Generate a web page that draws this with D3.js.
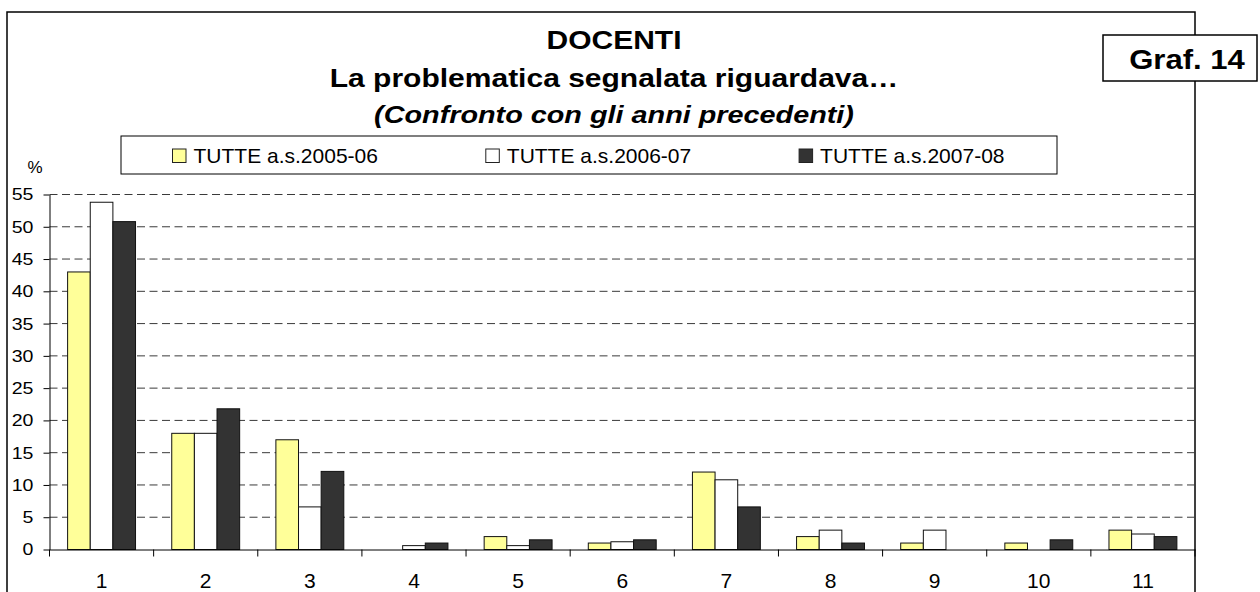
<!DOCTYPE html>
<html>
<head>
<meta charset="utf-8">
<script src="https://cdn.jsdelivr.net/npm/d3@7"></script>
<style>
    html, body { margin: 0; padding: 0; background: #fff; }
    #chart { width: 1260px; height: 592px; overflow: hidden; }
    text { font-family: Arial, "Liberation Sans", sans-serif; fill: #000; }
</style>
</head>
<body>
<div id="chart"></div>
<script>
const categories = ["1", "2", "3", "4", "5", "6", "7", "8", "9", "10", "11"];
const seriesNames = ["TUTTE a.s.2005-06", "TUTTE a.s.2006-07", "TUTTE a.s.2007-08"];
const values0506 = [43, 18, 17, 0, 2, 1, 12, 2, 1, 1, 3];
const values0607 = [53.8, 18, 6.6, 0.6, 0.6, 1.2, 10.8, 3, 3, 0, 2.4];
const values0708 = [50.8, 21.8, 12.1, 1, 1.5, 1.5, 6.6, 1, 0, 1.5, 2];
const yTicks = [0, 5, 10, 15, 20, 25, 30, 35, 40, 45, 50, 55];
const titleLines = ["DOCENTI", "La problematica segnalata riguardava…", "(Confronto con gli anni precedenti)"];
const badgeLabel = "Graf. 14";
const unitLabel = "%";

document.addEventListener("DOMContentLoaded", () => {

    const width = 1260;
    const height = 592;
    const plot = { left: 49.5, right: 1195, top: 194.5, bottom: 549.5 };
    const colors = ["#ffff99", "#ffffff", "#333333"];
    const series = [values0506, values0607, values0708];

    const svg = d3.select("#chart")
        .append("svg")
        .attr("width", width)
        .attr("height", height);

    // text in the picture is a bit wider than plain Arial
    function wideText(parent, x, y, str, size, sx) {
        return parent.append("text")
            .attr("transform", `translate(${x},${y}) scale(${sx},1)`)
            .style("font-size", size + "px")
            .text(str);
    }

    // outer frame
    svg.append("rect")
        .attr("x", 7)
        .attr("y", 12)
        .attr("width", 1188)
        .attr("height", 620)
        .attr("fill", "none")
        .attr("stroke", "#000")
        .attr("stroke-width", 1.5);

    // titles
    const titleY = [49, 87, 123];
    titleLines.forEach((t, i) => {
        wideText(svg, 614, titleY[i], t, i === 2 ? 24 : 25, 1.2)
            .attr("text-anchor", "middle")
            .style("font-weight", "bold")
            .style("font-style", i === 2 ? "italic" : "normal");
    });

    // badge
    svg.append("rect")
        .attr("x", 1103)
        .attr("y", 35)
        .attr("width", 154)
        .attr("height", 46)
        .attr("fill", "#fff")
        .attr("stroke", "#000")
        .attr("stroke-width", 1.5);
    wideText(svg, 1187, 69, badgeLabel, 27, 1.15)
        .attr("text-anchor", "middle")
        .style("font-weight", "bold");

    // legend
    svg.append("rect")
        .attr("x", 121)
        .attr("y", 136)
        .attr("width", 936)
        .attr("height", 38)
        .attr("fill", "#fff")
        .attr("stroke", "#000")
        .attr("stroke-width", 1);

    const legend = svg.selectAll(".legend")
        .data(seriesNames)
        .enter()
        .append("g")
        .attr("class", "legend")
        .attr("transform", (d, i) => `translate(${172.5 + i * 313.3},149)`);

    legend.append("rect")
        .attr("width", 13.5)
        .attr("height", 13.5)
        .attr("fill", (d, i) => colors[i])
        .attr("stroke", "#222")
        .attr("stroke-width", 1);

    legend.append("text")
        .attr("x", 21)
        .attr("y", 14)
        .style("font-size", "21px")
        .text(d => d);

    // unit
    svg.append("text")
        .attr("x", 35)
        .attr("y", 167)
        .attr("dy", "0.35em")
        .attr("text-anchor", "middle")
        .style("font-size", "17px")
        .text(unitLabel);

    // scales
    const x = d3.scaleBand()
        .domain(categories)
        .range([plot.left, plot.right]);

    const xInner = d3.scaleBand()
        .domain(d3.range(series.length))
        .range([0, x.bandwidth()])
        .paddingInner(0)
        .paddingOuter(0.8);

    const y = d3.scaleLinear()
        .domain([0, 55])
        .range([plot.bottom, plot.top]);

    // dashed gridlines
    svg.append("g")
        .selectAll("line")
        .data(yTicks.filter(t => t > 0))
        .enter()
        .append("line")
        .attr("x1", plot.left)
        .attr("x2", plot.right)
        .attr("y1", d => y(d))
        .attr("y2", d => y(d))
        .attr("stroke", "#3a3a3a")
        .attr("stroke-width", 1)
        .attr("stroke-dasharray", "8,4.5");

    // bars
    const groups = svg.selectAll(".group")
        .data(categories)
        .enter()
        .append("g")
        .attr("class", "group")
        .attr("transform", d => `translate(${x(d)},0)`);

    groups.selectAll("rect")
        .data((d, ci) => series.map((s, si) => ({ si: si, v: s[ci] })).filter(b => b.v > 0))
        .enter()
        .append("rect")
        .attr("x", b => xInner(b.si))
        .attr("y", b => y(b.v))
        .attr("width", xInner.bandwidth())
        .attr("height", b => y(0) - y(b.v))
        .attr("fill", b => colors[b.si])
        .attr("stroke", "#111")
        .attr("stroke-width", 1);

    // y axis
    const yAxis = svg.append("g")
        .attr("transform", `translate(${plot.left},0)`)
        .call(d3.axisLeft(y).tickValues(yTicks).tickSize(6).tickSizeOuter(0).tickPadding(8));

    yAxis.selectAll("text")
        .attr("transform", "scale(1.15,1)")
        .style("font-size", "17px")
        .style("font-family", "Arial, 'Liberation Sans', sans-serif")
        .attr("fill", "#000");

    // x axis
    const xAxis = svg.append("g")
        .attr("transform", `translate(0,${plot.bottom})`)
        .call(d3.axisBottom(x).tickSize(0).tickSizeOuter(0).tickPadding(23.5));

    xAxis.selectAll("text")
        .style("font-size", "21px")
        .style("font-family", "Arial, 'Liberation Sans', sans-serif")
        .attr("fill", "#000");

    // category boundary ticks
    xAxis.selectAll(".bound")
        .data(d3.range(categories.length + 1))
        .enter()
        .append("line")
        .attr("class", "bound")
        .attr("x1", i => plot.left + i * x.step())
        .attr("x2", i => plot.left + i * x.step())
        .attr("y1", 0)
        .attr("y2", 7)
        .attr("stroke", "#000");

    svg.selectAll(".domain, .tick line")
        .attr("stroke", "#000")
        .attr("stroke-width", 1);
});
</script>
</body>
</html>
